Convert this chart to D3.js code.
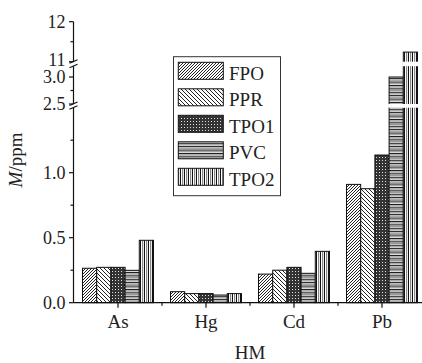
<!DOCTYPE html>
<html>
<head>
<meta charset="utf-8">
<script src="https://cdn.jsdelivr.net/npm/d3@7"></script>
</head>
<body style="margin:0; background:#fff">
<div id="chart"></div>
<script>
// metals on the x axis
const metals = ["As", "Hg", "Cd", "Pb"];
// materials (legend order)
const materials = ["FPO", "PPR", "TPO1", "PVC", "TPO2"];
// concentration values per material, in metal order
const FPO  = [0.265, 0.085, 0.22, 0.91];
const PPR  = [0.272, 0.07, 0.25, 0.877];
const TPO1 = [0.272, 0.07, 0.272, 1.136];
const PVC  = [0.249, 0.059, 0.226, 3.0];
const TPO2 = [0.48, 0.07, 0.395, 11.24];
const seriesValues = [FPO, PPR, TPO1, PVC, TPO2];

// broken y axis: three pieces
const yTicksMajor = [[0, 0.5, 1.0], [2.5, 3.0], [11, 12]];
const yTickLabels = [["0.0", "0.5", "1.0"], ["2.5", "3.0"], ["11", "12"]];
const yTicksMinor = [[0.25, 0.75, 1.25], [2.75], [11.5]];

const W = 422, H = 363;
const axisX = 73.5, axisY = 302.7;
const FONT = "'Liberation Serif'";

const segs = [
  d3.scaleLinear().domain([0, 1.5]).range([axisY, 107.7]),
  d3.scaleLinear().domain([2.5, 3.2]).range([104, 66.2]),
  d3.scaleLinear().domain([11, 12]).range([61.7, 21.7])
];
function y(v) {
  if (v <= 1.5) return segs[0](v);
  if (v <= 3.2) return segs[1](v);
  return segs[2](v);
}
const gaps = [[104, 107.7], [61.7, 66.2]];

const svg = d3.select("#chart").append("svg")
  .attr("width", W).attr("height", H);

function label(sel) {
  return sel.append("text").style("font-family", FONT).attr("fill", "#222");
}

// patterns
const defs = svg.append("defs");
function pat(id, w, h) {
  return defs.append("pattern").attr("id", id)
    .attr("patternUnits", "userSpaceOnUse").attr("width", w).attr("height", h);
}
let p = pat("p-fpo", 3, 3);
p.append("rect").attr("width", 3).attr("height", 3).attr("fill", "#fff");
p.append("path").attr("d", "M-1,1 L1,-1 M0,3 L3,0 M2,4 L4,2").attr("stroke", "#222").attr("stroke-width", 1);
p = pat("p-ppr", 4, 4);
p.append("rect").attr("width", 4).attr("height", 4).attr("fill", "#fff");
p.append("path").attr("d", "M-1,3 L1,5 M0,0 L4,4 M3,-1 L5,1").attr("stroke", "#222").attr("stroke-width", 1);
p = pat("p-tpo1", 3, 3);
p.append("rect").attr("width", 3).attr("height", 3).attr("fill", "#333");
p.append("rect").attr("x", 1).attr("y", 1).attr("width", 1).attr("height", 1).attr("fill", "#ddd");
p = pat("p-pvc", 4, 3.4);
p.append("rect").attr("width", 4).attr("height", 3.4).attr("fill", "#e6e6e6");
p.append("rect").attr("y", 0).attr("width", 4).attr("height", 1).attr("fill", "#111");
p.append("rect").attr("y", 1.6).attr("width", 4).attr("height", 1).attr("fill", "#999");
p = pat("p-tpo2", 4, 4);
p.append("rect").attr("width", 4).attr("height", 4).attr("fill", "#fff");
p.append("rect").attr("x", 0).attr("width", 1).attr("height", 4).attr("fill", "#111");
p.append("rect").attr("x", 2).attr("width", 1.2).attr("height", 4).attr("fill", "#888");
const fills = ["url(#p-fpo)", "url(#p-ppr)", "url(#p-tpo1)", "url(#p-pvc)", "url(#p-tpo2)"];

// x scales
const x = d3.scaleBand().domain(metals).range([74, 426]).padding(0);
const xi = d3.scaleBand().domain(materials).range([0, 71]).padding(0);
const off = (x.bandwidth() - 71) / 2;

// bars
const barData = [];
materials.forEach((m, si) => {
  metals.forEach((k, ki) => barData.push({ m: m, k: k, v: seriesValues[si][ki], si: si }));
});
svg.append("g").selectAll("rect").data(barData).enter().append("rect")
  .attr("x", d => x(d.k) + off + xi(d.m))
  .attr("y", d => y(d.v))
  .attr("width", xi.bandwidth())
  .attr("height", d => y(0) - y(d.v))
  .attr("fill", d => fills[d.si])
  .attr("stroke", "#111").attr("stroke-width", 1);

// white gaps in bars that cross the breaks
gaps.forEach(g => {
  svg.append("g").selectAll("rect").data(barData.filter(d => y(d.v) < g[0])).enter().append("rect")
    .attr("x", d => x(d.k) + off + xi(d.m) - 1)
    .attr("y", g[0]).attr("width", xi.bandwidth() + 2).attr("height", g[1] - g[0])
    .attr("fill", "#fff");
});

// y axis line with breaks
const ax = svg.append("g").attr("stroke", "#111").attr("stroke-width", 1.2).attr("fill", "none");
ax.append("line").attr("x1", axisX).attr("x2", axisX).attr("y1", axisY).attr("y2", 107.7);
ax.append("line").attr("x1", axisX).attr("x2", axisX).attr("y1", 104).attr("y2", 66.2);
ax.append("line").attr("x1", axisX).attr("x2", axisX).attr("y1", 61.7).attr("y2", 21.7);
gaps.forEach(g => {
  ax.append("line").attr("x1", axisX - 4).attr("x2", axisX + 4).attr("y1", g[1] + 1.5).attr("y2", g[1] - 2);
  ax.append("line").attr("x1", axisX - 4).attr("x2", axisX + 4).attr("y1", g[0] + 1.5).attr("y2", g[0] - 2);
});

// y ticks
segs.forEach((s, i) => {
  yTicksMajor[i].forEach((t, j) => {
    ax.append("line").attr("x1", axisX - 4.5).attr("x2", axisX).attr("y1", s(t)).attr("y2", s(t));
    label(svg).attr("x", axisX - 8).attr("y", s(t) + (t === 11 ? -1.5 : 0)).attr("dy", "0.34em")
      .attr("text-anchor", "end").attr("font-size", 18)
      .text(yTickLabels[i][j]);
  });
  yTicksMinor[i].forEach(t => {
    ax.append("line").attr("x1", axisX - 3).attr("x2", axisX).attr("y1", s(t)).attr("y2", s(t));
  });
});

// x axis
ax.append("line").attr("x1", axisX).attr("x2", W).attr("y1", axisY).attr("y2", axisY);
metals.forEach(k => {
  const cx = x(k) + x.bandwidth() / 2;
  ax.append("line").attr("x1", cx).attr("x2", cx).attr("y1", axisY).attr("y2", axisY + 5);
  label(svg).attr("x", cx).attr("y", 327.7).attr("text-anchor", "middle")
    .attr("font-size", 19).text(k);
});
metals.slice(1).forEach(k => {
  ax.append("line").attr("x1", x(k)).attr("x2", x(k)).attr("y1", axisY).attr("y2", axisY + 3);
});

// axis titles
label(svg).attr("x", 250).attr("y", 359).attr("text-anchor", "middle")
  .attr("font-size", 19).text("HM");
const yl = label(svg).attr("transform", "translate(22,160) rotate(-90)")
  .attr("text-anchor", "middle").attr("font-size", 19);
yl.append("tspan").attr("font-style", "italic").text("M");
yl.append("tspan").text("/ppm");

// legend
const lg = svg.append("g");
lg.append("rect").attr("x", 173.5).attr("y", 56.7).attr("width", 107).attr("height", 139)
  .attr("fill", "#fff").attr("stroke", "#333").attr("stroke-width", 1);
materials.forEach((m, i) => {
  const ty = 62.3 + i * 26.5;
  lg.append("rect").attr("x", 178.3).attr("y", ty).attr("width", 45).attr("height", 17)
    .attr("fill", fills[i]).attr("stroke", "#111").attr("stroke-width", 1);
  label(lg).attr("x", 229).attr("y", ty + 17.5).attr("font-size", 19).text(m);
});
</script>
</body>
</html>
